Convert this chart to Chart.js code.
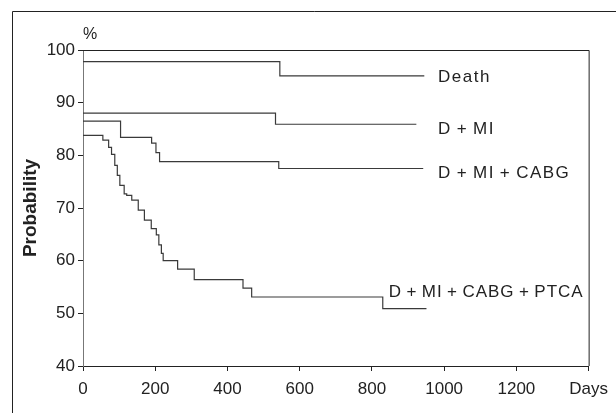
<!DOCTYPE html>
<html>
<head>
<meta charset="utf-8">
<script src="https://cdn.jsdelivr.net/npm/chart.js@4.4.1/dist/chart.umd.min.js"></script>
<style>
  body { margin: 0; background: #fff; }
  canvas { display: block; }
</style>
</head>
<body>
<canvas id="kmChart" width="616" height="413"></canvas>
<script>
// Kaplan-Meier style event-free curves
var deathDays = [0, 545, 945];
var deathProb = [97.8, 95.1, 95.1];

var dmiDays = [0, 533, 923];
var dmiProb = [88.0, 85.9, 85.9];

var cabgDays = [0, 104, 190, 202, 212, 542, 942];
var cabgProb = [86.5, 83.4, 82.3, 80.5, 78.8, 77.5, 77.5];

var ptcaDays = [0, 55, 71, 79, 88, 95, 102, 114, 121, 135, 153, 170, 189, 203, 210, 217, 222, 262, 308, 443, 467, 830, 951];
var ptcaProb = [83.8, 82.9, 81.5, 80.2, 78.1, 76.2, 74.3, 72.7, 72.4, 71.5, 69.6, 67.7, 66.1, 64.9, 63.0, 61.4, 60.0, 58.4, 56.4, 54.8, 53.1, 50.9, 50.9];

// thin spaces around "+" like the original typesetting
var curveLabels = ['Death', 'D\u2009+\u2009MI', 'D\u2009+\u2009MI\u2009+\u2009CABG', 'D\u2009+\u2009MI\u2009+\u2009CABG\u2009+\u2009PTCA'];
var xTicks = [0, 200, 400, 600, 800, 1000, 1200, 1400];
var yTicks = [40, 50, 60, 70, 80, 90, 100];

var ink = '#222';
var fontFamily = '"Liberation Sans", Arial, Helvetica, sans-serif';

function toPoints(days, probs) {
    return days.map(function (d, i) { return { x: d, y: probs[i] }; });
}

function curve(label, days, probs) {
    return {
        label: label,
        data: toPoints(days, probs),
        stepped: 'before',
        borderColor: '#3a3a3a',
        borderWidth: 1.2,
        pointRadius: 0,
        fill: false
    };
}

// frame, outer border, "%" and curve labels
var decorations = {
    id: 'decorations',
    afterDraw: function (chart) {
        var ctx = chart.ctx;
        var area = chart.chartArea;
        var xs = chart.scales.x;
        var ys = chart.scales.y;
        ctx.save();
        ctx.strokeStyle = ink;
        ctx.lineWidth = 1;
        ctx.beginPath();
        ctx.moveTo(area.left, area.top + 0.5);
        ctx.lineTo(area.right + 0.5, area.top + 0.5);
        ctx.lineTo(area.right + 0.5, area.bottom);
        ctx.stroke();

        ctx.beginPath();
        ctx.moveTo(12.5, 413);
        ctx.lineTo(12.5, 11.5);
        ctx.lineTo(616, 11.5);
        ctx.stroke();

        ctx.fillStyle = ink;
        ctx.font = '16px ' + fontFamily;
        ctx.textAlign = 'left';
        ctx.textBaseline = 'middle';
        ctx.fillText('%', area.left, area.top - 15);

        ctx.font = '17px ' + fontFamily;
        ctx.letterSpacing = '1.5px';
        var lx = xs.getPixelForValue(983);
        ctx.fillText(curveLabels[0], lx, ys.getPixelForValue(deathProb[deathProb.length - 1]) + 2);
        ctx.fillText(curveLabels[1], lx, ys.getPixelForValue(dmiProb[dmiProb.length - 1]) + 5);
        ctx.fillText(curveLabels[2], lx, ys.getPixelForValue(cabgProb[cabgProb.length - 1]) + 5);
        ctx.letterSpacing = '1px';
        ctx.fillText(curveLabels[3], xs.getPixelForValue(ptcaDays[ptcaDays.length - 2]) + 6,
            ys.getPixelForValue(ptcaProb[ptcaProb.length - 3]) - 5);
        ctx.restore();
    }
};

window.onload = function () {
    var ctx = document.getElementById('kmChart').getContext('2d');
    new Chart(ctx, {
        type: 'line',
        data: {
            datasets: [
                curve(curveLabels[0], deathDays, deathProb),
                curve(curveLabels[1], dmiDays, dmiProb),
                curve(curveLabels[2], cabgDays, cabgProb),
                curve(curveLabels[3], ptcaDays, ptcaProb)
            ]
        },
        options: {
            responsive: false,
            animation: false,
            layout: { padding: { top: 50, right: 22, bottom: 0, left: 0 } },
            plugins: {
                legend: { display: false },
                tooltip: { enabled: false }
            },
            scales: {
                x: {
                    type: 'linear',
                    min: 0,
                    max: 1400,
                    afterBuildTicks: function (axis) {
                        axis.ticks = xTicks.map(function (v) { return { value: v }; });
                    },
                    afterFit: function (axis) { axis.height = 47; },
                    grid: { drawOnChartArea: false, tickLength: 5, color: ink },
                    border: { color: ink, width: 1 },
                    ticks: {
                        color: ink,
                        padding: 8,
                        maxRotation: 0,
                        font: { family: fontFamily, size: 17 },
                        callback: function (v) { return v === 1400 ? 'Days' : v; }
                    }
                },
                y: {
                    min: 40,
                    max: 100,
                    afterBuildTicks: function (axis) {
                        axis.ticks = yTicks.map(function (v) { return { value: v }; });
                    },
                    afterFit: function (axis) { axis.width = 83; },
                    grid: { drawOnChartArea: false, tickLength: 5, color: ink },
                    border: { color: '#777', width: 1 },
                    ticks: {
                        color: ink,
                        padding: 3,
                        font: { family: fontFamily, size: 17 }
                    },
                    title: {
                        display: true,
                        text: 'Probability',
                        color: ink,
                        font: { family: fontFamily, size: 19, weight: 'bold' },
                        padding: { top: 19, bottom: 0 }
                    }
                }
            }
        },
        plugins: [decorations]
    });
};
</script>
</body>
</html>
